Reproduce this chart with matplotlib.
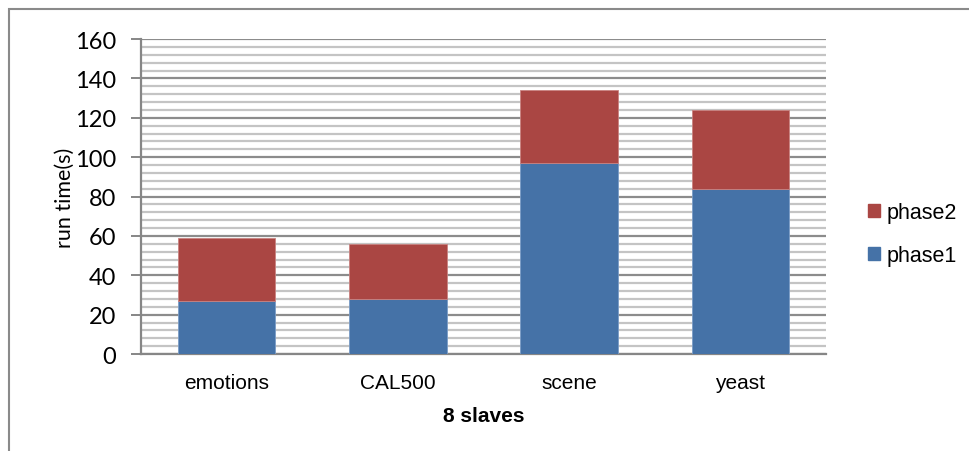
import numpy as np
import matplotlib
matplotlib.use("Agg")
import matplotlib.pyplot as plt
from matplotlib.patches import Rectangle, Patch
from matplotlib.ticker import MultipleLocator

# ---------- dados ----------
datasets = ["emotions", "CAL500", "scene", "yeast"]
phase1 = [27, 28, 97, 84]
phase2 = [32, 28, 37, 40]

C_P1 = "#4572A7"; C_P2 = "#AA4643"
C_MAJ = "#8C8C8C"; C_MIN = "#C4C4C4"; C_AX = "#868686"
F_NUM = "Lato"; F_TXT = "Liberation Sans"

fig = plt.figure(figsize=(9.69, 4.52), dpi=100)
ax = fig.add_axes([0.1455, 0.2146, 0.7069, 0.6969])

x = np.arange(len(datasets))
w = 0.57
ax.bar(x, phase1, w, color=C_P1, edgecolor="#7A9CC6", lw=0.6, zorder=3)
ax.bar(x, phase2, w, bottom=phase1, color=C_P2, edgecolor="#C98280", lw=0.6, zorder=3)

ax.set_xlim(-0.5, len(datasets) - 0.5)
ax.set_ylim(0, 160)
ax.yaxis.set_major_locator(MultipleLocator(20))
ax.yaxis.set_minor_locator(MultipleLocator(4))
ax.grid(axis="y", which="major", color=C_MAJ, lw=1.6, zorder=0)
ax.grid(axis="y", which="minor", color=C_MIN, lw=1.6, zorder=0)
ax.set_axisbelow(True)

for s in ("top", "right"):
    ax.spines[s].set_visible(False)
for s in ("left", "bottom"):
    ax.spines[s].set_color(C_AX); ax.spines[s].set_linewidth(1.6)

ax.set_xticks(x)
ax.set_xticklabels(datasets, fontsize=15, family=F_TXT)
ax.tick_params(axis="x", length=0, pad=14)
ax.tick_params(axis="y", which="major", length=7, width=1.4, color=C_AX, pad=11,
               labelsize=17)
ax.tick_params(axis="y", which="minor", length=0)
for t in ax.get_yticklabels():
    t.set_family(F_NUM)

ax.set_ylabel("run time(s)", fontsize=15.5, family=F_NUM)
ax.yaxis.set_label_coords(-0.096, 0.5)
ax.set_xlabel("8 slaves", fontsize=15, family=F_TXT, weight="bold", labelpad=10)

handles = [Patch(color=C_P2, label="phase2"), Patch(color=C_P1, label="phase1")]
fig.legend(handles=handles, loc="center left", bbox_to_anchor=(0.876, 0.48),
           frameon=False, prop={"family": F_TXT, "size": 15.5},
           handlelength=0.55, handleheight=0.55, handletextpad=0.3,
           labelspacing=1.0)

# moldura externa do gráfico
fig.add_artist(Rectangle((9 / 969, -0.1), 1.2, 1 - 10 / 452 + 0.1,
                         transform=fig.transFigure, fill=False,
                         edgecolor="#8A8A8A", lw=1.5))

fig.savefig("out.png", dpi=100)
